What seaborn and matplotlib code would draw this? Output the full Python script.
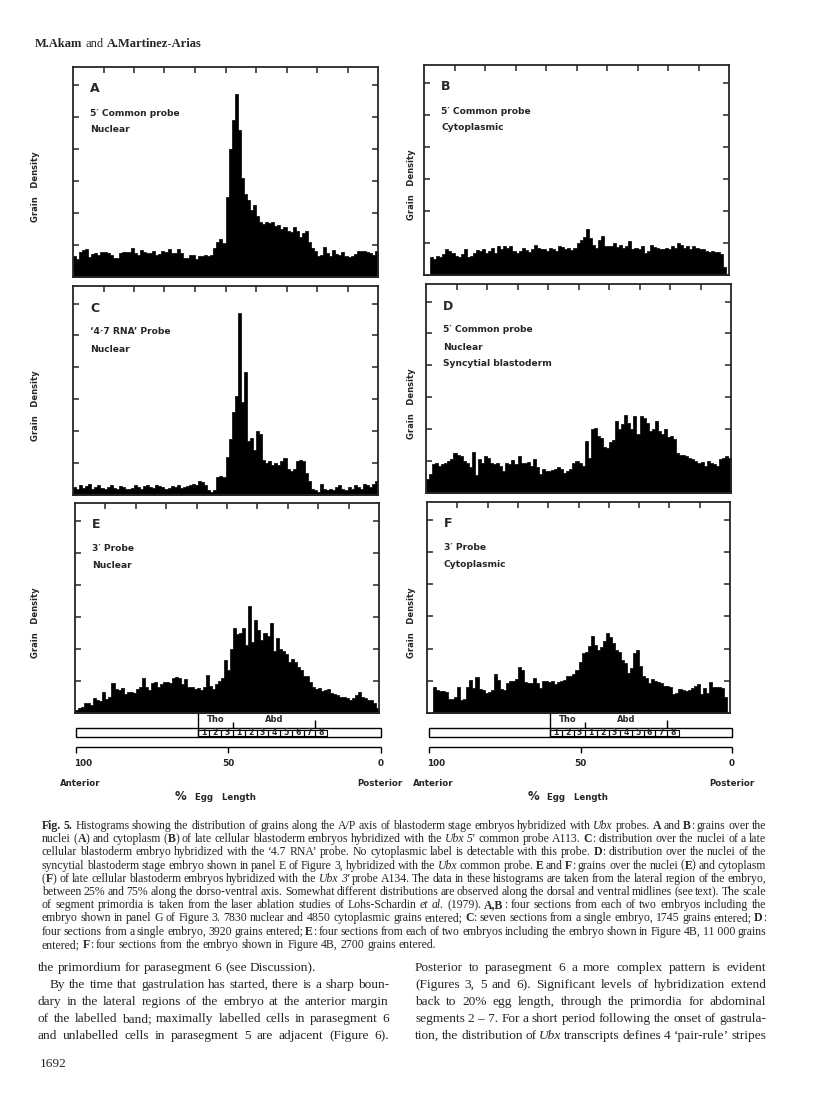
import numpy as np
import pandas as pd
import matplotlib
matplotlib.use("Agg")
import matplotlib.pyplot as plt
from matplotlib.patches import Rectangle
import seaborn as sns

# ---------------------------------------------------------------
# Grain density per 1% egg-length bin, anterior (100) -> posterior (0)
# ---------------------------------------------------------------
a_5p_nuclear = [
    0.65, 0.55, 0.78, 0.85, 0.88, 0.62, 0.72, 0.75, 0.70, 0.77,
    0.78, 0.74, 0.70, 0.58, 0.60, 0.74, 0.78, 0.77, 0.78, 0.90,
    0.74, 0.70, 0.85, 0.78, 0.74, 0.75, 0.80, 0.68, 0.72, 0.80,
    0.78, 0.86, 0.75, 0.76, 0.88, 0.74, 0.60, 0.58, 0.70, 0.68,
    0.55, 0.65, 0.66, 0.68, 0.66, 0.68, 0.90, 1.10, 1.20, 1.05,
    2.50, 4.00, 4.90, 5.70, 4.60, 3.10, 2.60, 2.40, 2.10, 2.25,
    1.90, 1.70, 1.65, 1.72, 1.68, 1.70, 1.60, 1.62, 1.50, 1.55,
    1.45, 1.40, 1.55, 1.45, 1.25, 1.38, 1.42, 1.10, 0.90, 0.80,
    0.65, 0.70, 0.95, 0.75, 0.65, 0.85, 0.72, 0.68, 0.78, 0.65,
    0.62, 0.66, 0.72, 0.80, 0.80, 0.82, 0.78, 0.75, 0.70, 0.80,
]
b_5p_cyto = [
    0.00, 0.00, 0.55, 0.50, 0.60, 0.55, 0.65, 0.80, 0.75, 0.70,
    0.60, 0.55, 0.65, 0.80, 0.55, 0.60, 0.70, 0.78, 0.75, 0.80,
    0.70, 0.75, 0.85, 0.70, 0.90, 0.80, 0.90, 0.85, 0.90, 0.75,
    0.70, 0.75, 0.85, 0.78, 0.72, 0.80, 0.95, 0.85, 0.80, 0.82,
    0.75, 0.85, 0.80, 0.75, 0.90, 0.88, 0.80, 0.85, 0.78, 0.85,
    1.00, 1.10, 1.20, 1.45, 1.15, 0.95, 0.85, 1.10, 1.22, 0.90,
    0.92, 0.90, 1.00, 0.88, 0.95, 0.85, 0.90, 1.05, 0.82, 0.85,
    0.80, 0.90, 0.70, 0.75, 0.95, 0.88, 0.85, 0.82, 0.80, 0.85,
    0.80, 0.90, 0.85, 1.00, 0.95, 0.85, 0.90, 0.82, 0.90, 0.85,
    0.80, 0.82, 0.75, 0.72, 0.75, 0.72, 0.72, 0.65, 0.25, 0.00,
]
c_47_nuclear = [
    0.25, 0.20, 0.30, 0.22, 0.28, 0.35, 0.20, 0.25, 0.30, 0.22,
    0.18, 0.25, 0.30, 0.22, 0.20, 0.28, 0.25, 0.20, 0.18, 0.22,
    0.30, 0.25, 0.20, 0.28, 0.32, 0.25, 0.22, 0.30, 0.28, 0.25,
    0.20, 0.22, 0.28, 0.25, 0.30, 0.22, 0.25, 0.28, 0.30, 0.35,
    0.32, 0.45, 0.40, 0.30, 0.15, 0.10, 0.15, 0.55, 0.60, 0.55,
    1.20, 1.75, 2.60, 3.10, 5.70, 2.90, 3.85, 1.70, 1.80, 1.40,
    2.00, 1.90, 1.10, 1.00, 1.05, 0.95, 1.00, 0.95, 1.05, 1.15,
    0.80, 0.75, 0.80, 1.05, 1.10, 1.05, 0.70, 0.45, 0.20, 0.15,
    0.10, 0.35, 0.20, 0.15, 0.20, 0.15, 0.25, 0.30, 0.20, 0.15,
    0.25, 0.20, 0.30, 0.25, 0.20, 0.35, 0.30, 0.25, 0.35, 0.45,
]
d_5p_syncytial = [
    0.45, 0.60, 0.90, 0.95, 0.85, 0.90, 0.95, 1.00, 1.05, 1.25,
    1.20, 1.15, 1.00, 0.95, 0.80, 1.28, 0.55, 1.05, 0.95, 1.15,
    1.10, 0.95, 0.90, 0.95, 0.85, 0.70, 0.95, 0.90, 1.02, 0.90,
    1.15, 0.93, 0.95, 0.96, 0.85, 1.05, 0.80, 0.60, 0.75, 0.70,
    0.68, 0.72, 0.75, 0.80, 0.76, 0.62, 0.70, 0.76, 0.95, 1.00,
    0.95, 0.85, 1.63, 1.10, 2.00, 2.05, 1.80, 1.72, 1.45, 1.40,
    1.60, 1.65, 2.25, 2.00, 2.15, 2.45, 2.20, 2.00, 2.40, 1.84,
    2.40, 2.35, 2.20, 1.95, 2.00, 2.25, 1.95, 1.85, 2.00, 1.75,
    1.80, 1.70, 1.25, 1.20, 1.20, 1.15, 1.10, 1.05, 1.00, 0.95,
    0.98, 0.85, 1.00, 0.95, 0.90, 0.85, 1.05, 1.10, 1.15, 1.10,
]
e_3p_nuclear = [
    0.10, 0.15, 0.20, 0.30, 0.32, 0.25, 0.46, 0.40, 0.38, 0.67,
    0.45, 0.50, 0.93, 0.75, 0.72, 0.78, 0.60, 0.65, 0.67, 0.63,
    0.75, 0.82, 1.08, 0.80, 0.72, 0.95, 0.98, 0.82, 0.90, 0.98,
    0.97, 0.93, 1.10, 1.11, 1.08, 0.92, 1.07, 0.82, 0.80, 0.75,
    0.77, 0.72, 0.80, 1.19, 0.85, 0.75, 0.92, 1.00, 1.08, 1.66,
    1.34, 2.00, 2.65, 2.45, 2.50, 2.65, 2.13, 3.34, 2.20, 2.90,
    2.60, 2.28, 2.50, 2.40, 2.80, 1.92, 2.33, 2.00, 1.92, 1.85,
    1.60, 1.68, 1.60, 1.45, 1.35, 1.14, 1.15, 0.98, 0.80, 0.76,
    0.78, 0.70, 0.72, 0.75, 0.62, 0.58, 0.56, 0.50, 0.50, 0.47,
    0.42, 0.48, 0.55, 0.67, 0.50, 0.48, 0.40, 0.40, 0.30, 0.15,
]
f_3p_cyto = [
    0.00, 0.00, 0.82, 0.70, 0.67, 0.68, 0.64, 0.45, 0.42, 0.50,
    0.82, 0.40, 0.45, 0.82, 1.03, 0.78, 1.11, 0.75, 0.70, 0.61,
    0.65, 0.72, 1.22, 1.03, 0.75, 0.72, 0.92, 1.00, 0.98, 1.05,
    1.43, 1.34, 0.95, 0.92, 0.92, 1.08, 0.92, 0.78, 0.98, 0.98,
    0.97, 1.00, 0.90, 0.95, 1.00, 1.02, 1.14, 1.16, 1.20, 1.34,
    1.57, 1.86, 1.90, 2.07, 2.39, 2.10, 1.97, 2.05, 2.23, 2.49,
    2.35, 2.17, 1.97, 1.88, 1.66, 1.55, 1.24, 1.40, 1.86, 1.97,
    1.45, 1.14, 1.10, 0.92, 1.05, 1.00, 0.95, 0.92, 0.84, 0.84,
    0.80, 0.59, 0.62, 0.75, 0.70, 0.68, 0.72, 0.77, 0.85, 0.90,
    0.60, 0.77, 0.62, 0.95, 0.80, 0.80, 0.82, 0.77, 0.50, 0.00,
]

panel_letters = ["A", "B", "C", "D", "E", "F"]
panel_data = [a_5p_nuclear, b_5p_cyto, c_47_nuclear, d_5p_syncytial, e_3p_nuclear, f_3p_cyto]
panel_notes = [
    ["5\u2032 Common probe", "Nuclear"],
    ["5\u2032 Common probe", "Cytoplasmic"],
    ["\u20184\u00b77 RNA\u2019 Probe", "Nuclear"],
    ["5\u2032 Common probe", "Nuclear", "Syncytial blastoderm"],
    ["3\u2032 Probe", "Nuclear"],
    ["3\u2032 Probe", "Cytoplasmic"],
]

# segment primordia scale (Lohs-Schardin et al. 1979), % egg length
tho_labels = ["1", "2", "3"]
abd_labels = ["1", "2", "3", "4", "5", "6", "7", "8"]
tho_start = 60.0
seg_width = 3.86
scale_ticks = [100, 50, 0]

caption_lines = [
    "~Fig.~ ~5.~ Histograms showing the distribution of grains along the A/P axis of blastoderm stage embryos hybridized with _Ubx_ probes. ~A~ and ~B~: grains over the",
    "nuclei (~A~) and cytoplasm (~B~) of late cellular blastoderm embryos hybridized with the _Ubx_ _5\u2032_ common probe A113. ~C~: distribution over the nuclei of a late",
    "cellular blastoderm embryo hybridized with the \u20184.7 RNA\u2019 probe. No cytoplasmic label is detectable with this probe. ~D~: distribution over the nuclei of the",
    "syncytial blastoderm stage embryo shown in panel E of Figure 3, hybridized with the _Ubx_ common probe. ~E~ and ~F~: grains over the nuclei (~E~) and cytoplasm",
    "(~F~) of late cellular blastoderm embryos hybridized with the _Ubx_ _3\u2032_ probe A134. The data in these histograms are taken from the lateral region of the embryo,",
    "between 25% and 75% along the dorso-ventral axis. Somewhat different distributions are observed along the dorsal and ventral midlines (see text). The scale",
    "of segment primordia is taken from the laser ablation studies of Lohs-Schardin _et_ _al._ (1979). ~A,B~: four sections from each of two embryos including the",
    "embryo shown in panel G of Figure 3. 7830 nuclear and 4850 cytoplasmic grains entered; ~C~: seven sections from a single embryo, 1745 grains entered; ~D~:",
    "four sections from a single embryo, 3920 grains entered; ~E~: four sections from each of two embryos including the embryo shown in Figure 4B, 11\u00a0000 grains",
    "entered; ~F~: four sections from the embryo shown in Figure 4B, 2700 grains entered.",
]
body_left = [
    "the primordium for parasegment 6 (see Discussion).",
    "By the time that gastrulation has started, there is a sharp boun-",
    "dary in the lateral regions of the embryo at the anterior margin",
    "of the labelled band; maximally labelled cells in parasegment 6",
    "and unlabelled cells in parasegment 5 are adjacent (Figure 6).",
]
body_right = [
    "Posterior to parasegment 6 a more complex pattern is evident",
    "(Figures 3, 5 and 6). Significant levels of hybridization extend",
    "back to 20% egg length, through the primordia for abdominal",
    "segments 2\u00a0\u2013\u00a07. For a short period following the onset of gastrula-",
    "tion, the distribution of _Ubx_ transcripts defines 4 \u2018pair-rule\u2019 stripes",
]

# ---------------------------------------------------------------
sns.set_style("ticks")
plt.rcParams["font.family"] = ["DejaVu Sans"]
SERIF = ["Liberation Serif", "DejaVu Serif"]

W, H = 816, 1093
fig = plt.figure(figsize=(W / 100, H / 100), dpi=100)
renderer = fig.canvas.get_renderer()


def px_axes(l, t, w, h):
    return fig.add_axes([l / W, 1 - (t + h) / H, w / W, h / H])


# panel boxes in page pixels: left, top, width, height
panel_boxes = [
    (73, 67, 305, 210), (424, 65, 305, 210),
    (73, 286, 305, 209), (426, 284, 305, 209),
    (75, 503, 304, 210), (427, 502, 303, 211),
]
edges = list(range(0, 101))
centers = 99.5 - np.arange(100)   # first value = 100-99 % bin

for letter, vals, notes, box in zip(panel_letters, panel_data, panel_notes, panel_boxes):
    ax = px_axes(*box)
    df = pd.DataFrame({"egg_length": centers, "grains": vals})
    sns.histplot(data=df, x="egg_length", weights="grains", bins=edges,
                 element="step", fill=True, color="black", alpha=1,
                 linewidth=0.5, ax=ax)
    ax.set_xlim(100, 0)
    ax.set_ylim(0, 6.55)
    ax.set_xticks(range(10, 100, 10))
    ax.set_yticks(range(1, 7))
    ax.tick_params(direction="in", length=4.5, width=1.1, top=True, right=True,
                   bottom=False, left=True, labelleft=False, labelbottom=False)
    ax.set_xlabel("")
    ax.set_ylabel("")
    for sp in ax.spines.values():
        sp.set_linewidth(1.3)
        sp.set_visible(True)
    ax.text(17 / box[2], 1 - 22 / box[3], letter, transform=ax.transAxes,
            fontsize=9, weight="bold", va="center")
    for i, note in enumerate(notes):
        ax.text(17 / box[2], 1 - (46 + 17 * i) / box[3], note, transform=ax.transAxes,
                fontsize=6.6, weight="bold", va="center")
    lab_x = 35 if box[0] < 200 else 411
    fig.text(lab_x / W, 1 - (box[1] + box[3] / 2 + 15) / H, "Grain   Density",
             rotation=90, ha="center", va="center", fontsize=6, weight="bold")


def draw_scale(l, w):
    ax = px_axes(l, 713, w, 92)
    ax.set_xlim(100, 0)
    ax.set_ylim(92, 0)
    ax.axis("off")
    k = dict(color="black", lw=1.0, clip_on=False, solid_capstyle="butt")
    n_tho = len(tho_labels)
    abd_start = tho_start - n_tho * seg_width
    a8_start = abd_start - (len(abd_labels) - 1) * seg_width
    ax.plot([tho_start, tho_start], [0, 24], **k)
    ax.plot([abd_start, abd_start], [9, 15], **k)
    ax.plot([a8_start, a8_start], [7, 15], **k)
    ax.add_patch(Rectangle((0, 15), 100, 9, fill=False, ec="black", lw=1.0, clip_on=False))
    for i, lab in enumerate(tho_labels + abd_labels):
        hi = tho_start - i * seg_width
        ax.add_patch(Rectangle((hi - seg_width, 16.5), seg_width, 6, fill=False,
                               ec="black", lw=0.8))
        ax.text(hi - seg_width / 2, 19.8, lab, ha="center", va="center",
                fontsize=5.6, weight="bold")
    ax.text((tho_start + abd_start) / 2, 7, "Tho", ha="center", va="center",
            fontsize=6, weight="bold")
    ax.text((abd_start + a8_start) / 2, 7, "Abd", ha="center", va="center",
            fontsize=6, weight="bold")
    ax.plot([100, 0], [34, 34], **k)
    for t in scale_ticks:
        ax.plot([t, t], [34, 40], **k)
        ax.text(t if t != 100 else 97.5, 50, str(t), ha="center", va="center",
                fontsize=6.4, weight="bold", clip_on=False)
    ax.text(105.3, 70, "Anterior", ha="left", va="center", fontsize=6.2,
            weight="bold", clip_on=False)
    ax.text(-7.3, 70, "Posterior", ha="right", va="center", fontsize=6.2,
            weight="bold", clip_on=False)
    ax.text(65.5, 83.5, "%", ha="center", va="center", fontsize=8.5, weight="bold")
    ax.text(61, 85, "Egg   Length", ha="left", va="center", fontsize=6.2,
            weight="bold")


draw_scale(75.7, 305)
draw_scale(429, 303)


# ---- justified page text -------------------------------------
def parse_word(word):
    segs, cur, bold, ital = [], "", False, False
    for ch in word:
        if ch in "~_":
            if cur:
                segs.append((cur, bold, ital))
                cur = ""
            if ch == "~":
                bold = not bold
            else:
                ital = not ital
        else:
            cur += ch
    if cur:
        segs.append((cur, bold, ital))
    return segs


def text_line(line, x0, x1, y, size, justify=True):
    words = [parse_word(w) for w in line.split(" ") if w]
    placed = []
    for segs in words:
        parts = []
        for s, b, i in segs:
            t = fig.text(0, 1 - y / H, s, fontsize=size, family=SERIF,
                         weight="bold" if b else "normal",
                         style="italic" if i else "normal", va="baseline")
            parts.append([t, t.get_window_extent(renderer).width])
        placed.append(parts)
    widths = [sum(p[1] for p in parts) for parts in placed]
    space = size * 100 / 72 * 0.25
    n = len(placed)
    avail = x1 - x0
    if justify and n > 1:
        if sum(widths) + 0.6 * space * (n - 1) > avail:
            f = (avail - 0.6 * space * (n - 1)) / sum(widths)
            for parts in placed:
                for p in parts:
                    p[0].set_fontsize(size * f)
                    p[1] *= f
            widths = [w * f for w in widths]
        gap = (avail - sum(widths)) / (n - 1)
    else:
        gap = space
    x = x0
    for parts in placed:
        for t, w in parts:
            t.set_x(x / W)
            x += w
        x += gap


text_line("~M.Akam~ and ~A.Martinez-Arias~", 35, 400, 47, 9, justify=False)

for i, line in enumerate(caption_lines):
    text_line(line, 42, 766, 829 + 13.2 * i, 8.5, justify=(i < len(caption_lines) - 1))

for i, line in enumerate(body_left):
    x0 = 50 if i == 1 else 38
    text_line(line, x0, 389, 971 + 17 * i, 9.6, justify=(i > 0))
for i, line in enumerate(body_right):
    text_line(line, 415, 766, 971 + 17 * i, 9.6, justify=True)

text_line("1692", 40, 120, 1067, 9.6, justify=False)

fig.savefig("out.png", dpi=100)
